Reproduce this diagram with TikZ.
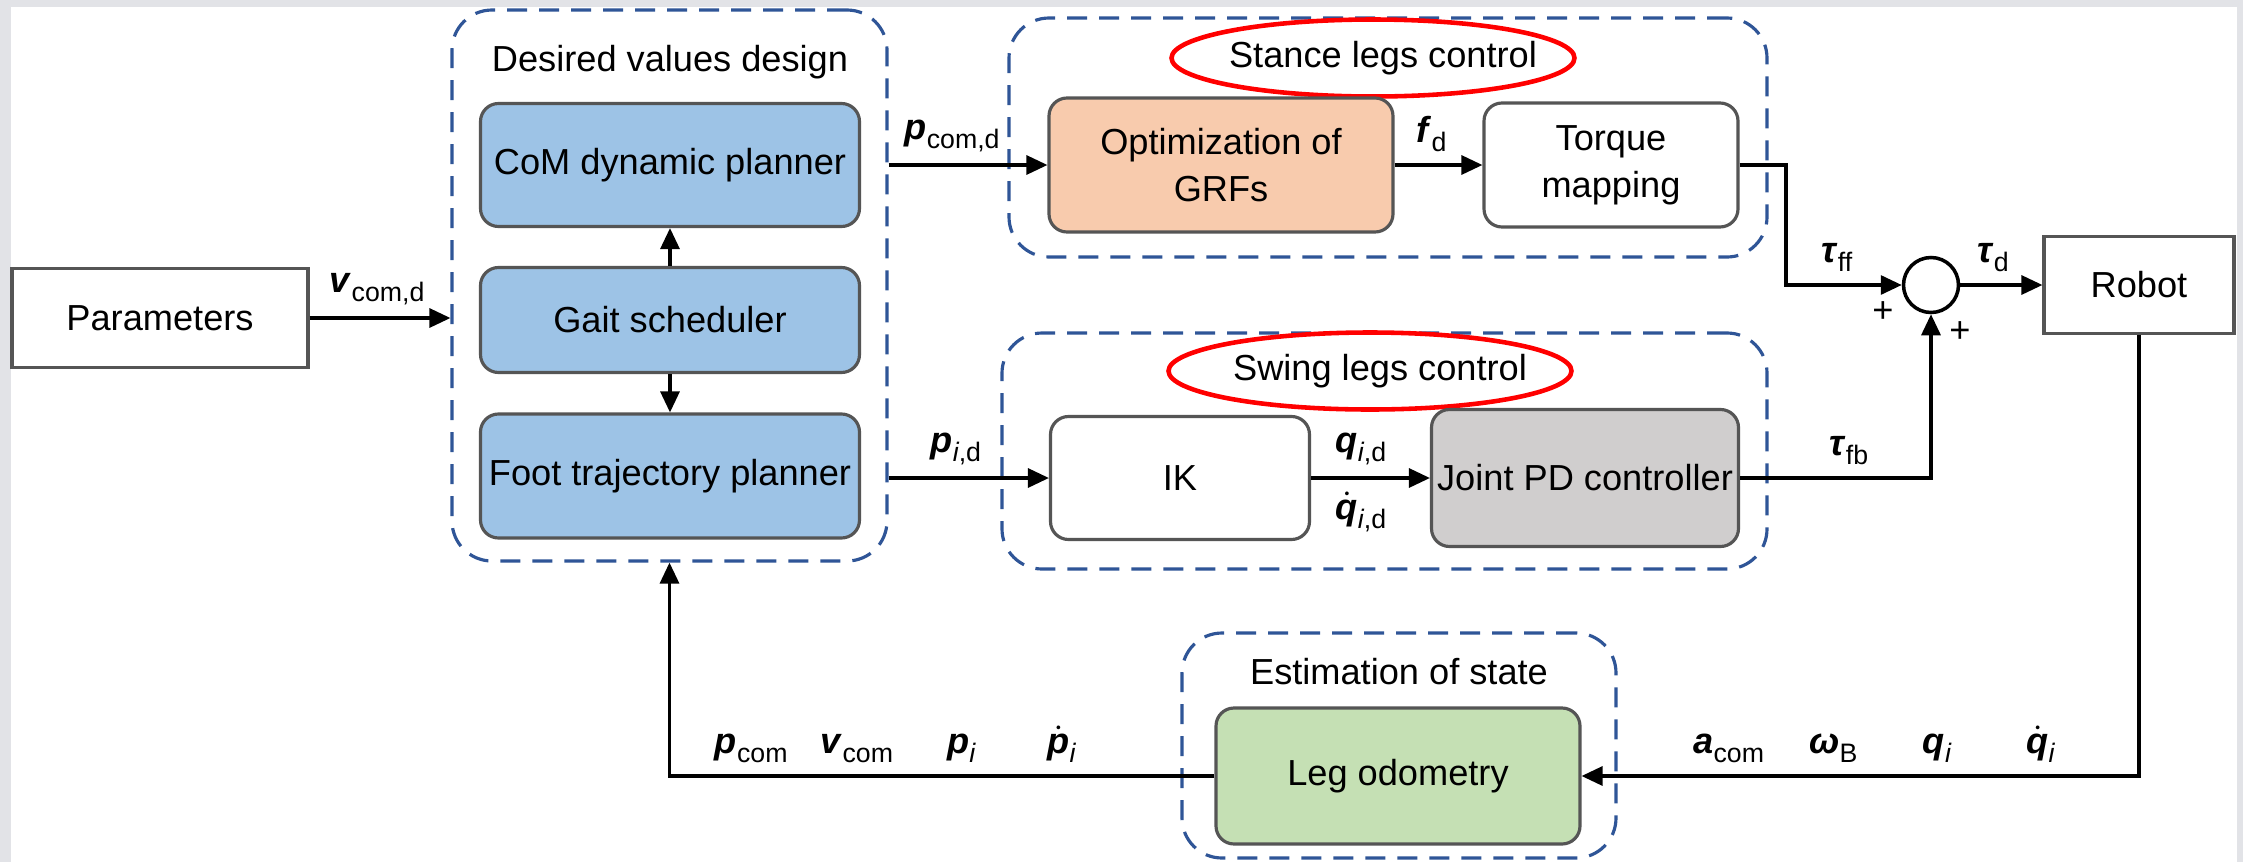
\documentclass[tikz,border=0pt]{standalone}
\usepackage{amsmath}
\usepackage{fontspec}
\setmainfont{Liberation Sans}
\usetikzlibrary{arrows.meta,shapes.geometric}

\definecolor{pagegray}{HTML}{E2E3E7}
\definecolor{boxgray}{HTML}{555555}
\definecolor{frameblue}{HTML}{2F5597}
\definecolor{planblue}{HTML}{9DC3E6}
\definecolor{optorange}{HTML}{F8CBAD}
\definecolor{pdgray}{HTML}{D0CECE}
\definecolor{odogreen}{HTML}{C5E0B4}

% signal labels: bold italic symbol with upright subscript
\newcommand{\subtxt}[1]{\raisebox{-0.45ex}{\fontsize{7.6}{9}\selectfont #1}}
\newcommand{\sg}[2]{\textbf{\textit{#1}}\subtxt{#2}}
\newcommand{\dsg}[2]{$\dot{\textbf{\textit{#1}}}$\subtxt{#2}}

\begin{document}
\begin{tikzpicture}[x=0.1mm,y=-0.1mm,font=\fontsize{10.3}{13.4}\selectfont,
  blk/.style={draw=boxgray,line width=0.9pt,rounded corners=1.8mm,inner sep=1pt,align=center},
  plain/.style={draw=boxgray,line width=0.9pt,inner sep=1pt},
  frame/.style={draw=frameblue,line width=0.9pt,dash pattern=on 2mm off 1.2mm,rounded corners=4mm,inner sep=0pt},
  oval/.style={ellipse,draw=red,line width=1.3pt,minimum width=40.3mm,minimum height=7.7mm,inner sep=0pt},
  conn/.style={line width=0.9pt,-{Triangle[length=2.1mm,width=1.9mm]}},
  lbl/.style={inner sep=1.2mm}]
  \useasboundingbox (0,0) rectangle (2243,862);
  \fill[pagegray] (0,0) rectangle (2243,862);
  \fill[white] (11,7) rectangle (2237,862);

  % dashed groups
  \node[frame,minimum width=43.5mm,minimum height=55.1mm] (dvd) at (669.5,285.5) {};
  \node[frame,minimum width=75.8mm,minimum height=23.9mm] (stance) at (1388,137.5) {};
  \node[frame,minimum width=76.5mm,minimum height=23.6mm] (swing) at (1384.5,451) {};
  \node[frame,minimum width=43.4mm,minimum height=22.5mm] (est) at (1399,745.5) {};

  \node (dvdtitle) at (670,62) {Desired values design};
  \node[oval] (stoval) at (1373,58) {};
  \node (sttitle) at (1383,58) {Stance legs control};
  \node[oval] (swoval) at (1370,371) {};
  \node (swtitle) at (1380,371) {Swing legs control};
  \node (esttitle) at (1399,672) {Estimation of state};

  % blocks
  \node[plain,minimum width=29.6mm,minimum height=9.9mm] (params) at (160,318) {Parameters};
  \node[blk,fill=planblue,minimum width=37.9mm,minimum height=12.3mm] (com) at (670,165) {CoM dynamic planner};
  \node[blk,fill=planblue,minimum width=37.9mm,minimum height=10.5mm] (gait) at (670,320) {Gait scheduler};
  \node[blk,fill=planblue,minimum width=37.9mm,minimum height=12.4mm] (foot) at (670,476) {Foot trajectory planner};
  \node[blk,fill=optorange,minimum width=34.4mm,minimum height=13.4mm] (opt) at (1221,165) {Optimization of\\GRFs};
  \node[blk,fill=white,minimum width=25.4mm,minimum height=12.4mm] (torque) at (1611,165) {Torque\\mapping};
  \node[blk,fill=white,minimum width=25.9mm,minimum height=12.3mm] (ik) at (1180,478) {IK};
  \node[blk,fill=pdgray,minimum width=30.7mm,minimum height=13.7mm,inner sep=0pt] (jpd) at (1585,478) {Joint PD controller};
  \node[blk,fill=odogreen,minimum width=36.4mm,minimum height=13.6mm] (odo) at (1398,776) {Leg odometry};
  \node[circle,draw,line width=1pt,minimum size=5.5mm,inner sep=0pt] (sum) at (1931,285) {};
  \node[plain,minimum width=19mm,minimum height=9.7mm] (robot) at (2139,285) {Robot};
  \node (plusa) at (1883,312) {+};
  \node (plusb) at (1960,332) {+};
  \coordinate (ffk) at (1786,285);

  % signals
  \path[conn]
    (params) edge node[lbl,above,pos=.48] {\sg{v}{com,d}} (params -| dvd.west)
    (dvd.east |- com) edge node[lbl,above,pos=.40] {\sg{p}{com,d}} (opt)
    (opt) edge node[lbl,above,pos=.42] {\sg{f}{d}} (torque)
    (gait) edge (com)
    (gait) edge (foot)
    (dvd.east |- ik) edge node[lbl,above,pos=.42] {\sg{p}{\textit{i},d}} (ik)
    (ik) edge node[lbl,above,pos=.42] {\sg{q}{\textit{i},d}}
              node[lbl,below,pos=.42] {\dsg{q}{\textit{i},d}} (jpd)
    (sum) edge node[lbl,above,pos=.4] {\sg{τ}{d}} (robot);
  \draw[conn] (torque.east) -| (ffk) -- node[lbl,above,pos=.44] {\sg{τ}{ff}} (sum.west);
  \draw[conn] (jpd.east) -| node[lbl,above,pos=.285] {\sg{τ}{fb}} (sum.south);
  \draw[conn] (robot.south) |- (odo.east)
    node[lbl,above,pos=.868] {\sg{a}{com}}
    node[lbl,above,pos=.774] {\sg{ω}{B}}
    node[lbl,above,pos=.681] {\sg{q}{\textit{i}}}
    node[lbl,above,pos=.588] {\dsg{q}{\textit{i}}};
  \draw[conn] (odo.west) -| (dvd.south)
    node[lbl,above,pos=.425] {\sg{p}{com}}
    node[lbl,above,pos=.328] {\sg{v}{com}}
    node[lbl,above,pos=.232] {\sg{p}{\textit{i}}}
    node[lbl,above,pos=.14] {\dsg{p}{\textit{i}}};
\end{tikzpicture}
\end{document}
